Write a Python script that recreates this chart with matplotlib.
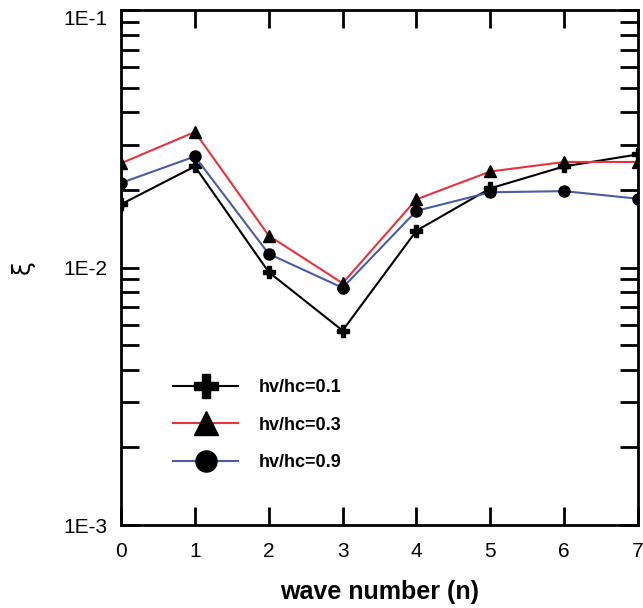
import matplotlib
matplotlib.use("Agg")
import matplotlib.pyplot as plt
from matplotlib.ticker import LogLocator, NullFormatter

plt.rcParams['font.family'] = ['Liberation Sans', 'DejaVu Sans']

# damping ratio per wave number, three velocity ratios
wave_n = [0, 1, 2, 3, 4, 5, 6, 7]
xi_01 = [0.0176, 0.0247, 0.0096, 0.00569, 0.0139, 0.0203, 0.0247, 0.0275]
xi_03 = [0.0254, 0.0336, 0.0133, 0.00869, 0.0184, 0.0236, 0.0257, 0.0257]
xi_09 = [0.0213, 0.0270, 0.0113, 0.00834, 0.0166, 0.0196, 0.0198, 0.0185]
labels = ['hv/hc=0.1', 'hv/hc=0.3', 'hv/hc=0.9']
ytick_vals = [1e-3, 1e-2, 1e-1]
ytick_text = ['1E-3', '1E-2', '1E-1']

fig = plt.figure(figsize=(6.43, 6.08), dpi=100)
ax = fig.add_axes([0.1882, 0.1365, 0.804, 0.847])

ax.plot(wave_n, xi_01, color='black', lw=1.5, marker='P', ms=9,
        mfc='black', mec='black', label=labels[0], zorder=3)
ax.plot(wave_n, xi_03, color='#e8323c', lw=1.5, marker='^', ms=9,
        mfc='black', mec='black', label=labels[1], zorder=3)
ax.plot(wave_n, xi_09, color='#4a5ba8', lw=1.5, marker='o', ms=8,
        mfc='black', mec='black', label=labels[2], zorder=3)

ax.set_yscale('log')
ax.set_ylim(1e-3, 1e-1)
ax.set_xlim(0, 7)
ax.set_xticks(wave_n)
ax.set_yticks(ytick_vals)
ax.set_yticklabels(ytick_text)
ax.yaxis.set_minor_locator(LogLocator(base=10, subs=range(2, 10)))
ax.yaxis.set_minor_formatter(NullFormatter())
ax.get_yticklabels()[-1].set_va('top')

for s in ax.spines.values():
    s.set_linewidth(2)
ax.tick_params(axis='both', which='both', direction='in', top=True, right=True,
               length=13, width=2, labelsize=15)
ax.tick_params(axis='x', pad=12)
ax.tick_params(axis='y', pad=10)

ax.set_xlabel('wave number (n)', fontsize=18, fontweight='bold', labelpad=14)
ax.set_ylabel('ξ', fontsize=18, family=['DejaVu Sans'], labelpad=20)

leg = ax.legend(loc='upper left', bbox_to_anchor=(0.07, 0.315), frameon=False,
                handlelength=3.6, handletextpad=1.1, markerscale=1.9,
                labelspacing=1.14, prop={'weight': 'bold', 'size': 13})

fig.savefig('out.png', dpi=100)
